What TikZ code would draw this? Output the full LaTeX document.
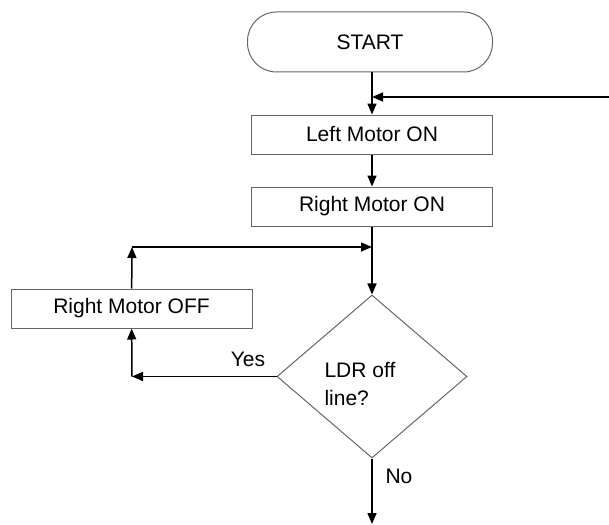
\documentclass[tikz,border=0pt]{standalone}
\usepackage{fontspec}
\setmainfont{Liberation Sans}
\usetikzlibrary{calc,shapes.geometric,arrows.meta}

\begin{document}
\begin{tikzpicture}[x=1pt,y=-1pt,font=\fontsize{21}{28}\selectfont,
  box/.style={draw=black!60,line width=1pt,minimum width=241pt,minimum height=39pt,inner sep=0pt},
  flow/.style={-{Triangle[length=11pt,width=9pt]},line width=1.5pt}]

\useasboundingbox (0,0) rectangle (609,524);

% blocks
\node[box,rounded corners=29pt,minimum width=245pt,minimum height=60pt] (start) at (370,42) {START};
\node[box] (leftmotor) at (372,134.5) {Left Motor ON};
\node[box] (rightmotor) at (372,206.5) {Right Motor ON};
\node[box] (rightoff) at (131.5,308.5) {Right Motor OFF};
\node[diamond,draw=black!60,line width=1pt,minimum width=190pt,minimum height=163pt,inner sep=0pt] (ldr) at (372,376.5) {};
\node[align=left,anchor=west] (ldrtxt) at (321,384) {LDR off\\line?};

% junctions and free ends
\coordinate (loopin) at (609,97);
\coordinate (topjoin) at (372,97);
\coordinate (midjoin) at (372,247);
\coordinate (offup) at (132,247);
\coordinate (yesend) at (132,376.5);
\coordinate (noend) at (372,524);

% main line
\draw[line width=1.5pt] (start.south -| topjoin) -- (topjoin);
\draw[flow] (topjoin) -- (leftmotor);
\draw[flow] (loopin) -- (topjoin);
\draw[flow] (leftmotor) -- (rightmotor);
\draw[line width=1.5pt] (rightmotor) -- (midjoin);
\draw[flow] (midjoin) -- (ldr);

% yes branch
\draw[flow] (ldr.west) -- (yesend);
\draw[flow] (yesend) -- (rightoff);
\draw[flow] (rightoff) -- (offup);
\draw[flow] (offup) -- (midjoin);

% no branch
\draw[flow] (ldr) -- (noend);

% labels
\node (yes) at (248,359) {Yes};
\node (no) at (399,476) {No};

\end{tikzpicture}
\end{document}
